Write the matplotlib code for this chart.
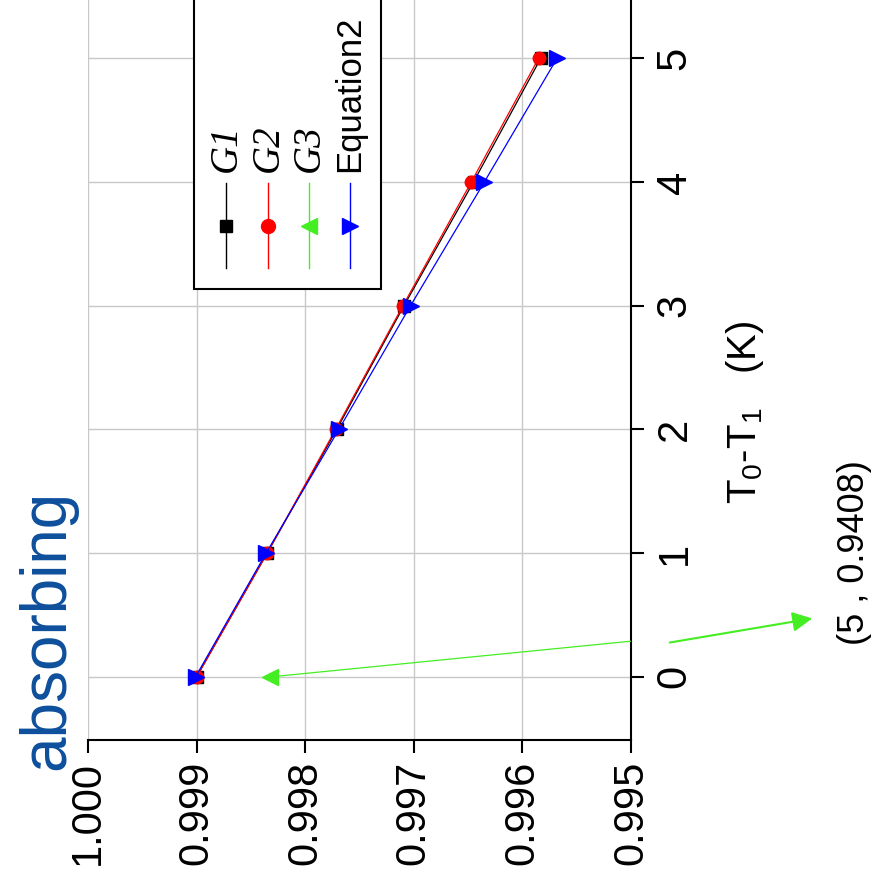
import numpy as np
import matplotlib
matplotlib.use("Agg")
from matplotlib import pyplot as plt
from matplotlib.patches import Rectangle
from matplotlib.lines import Line2D

plt.rcParams['font.family'] = ['Liberation Sans', 'DejaVu Sans']
plt.rcParams['mathtext.fontset'] = 'custom'
plt.rcParams['mathtext.rm'] = 'Liberation Sans'
plt.rcParams['mathtext.it'] = 'Liberation Sans:italic'

dt = [0, 1, 2, 3, 4, 5]
g1 = [0.99900, 0.99835, 0.99771, 0.99709, 0.99645, 0.99583]
g2 = [0.99900, 0.99835, 0.99772, 0.99710, 0.99647, 0.99585]
g3_t = [0, 5]
g3 = [0.99832, 0.9408]
eq2 = [0.99901, 0.99836, 0.99769, 0.99703, 0.99635, 0.99568]

val_ticks = [1.000, 0.999, 0.998, 0.997, 0.996, 0.995]
t_ticks = [0, 1, 2, 3, 4, 5]

W, H = 874, 883
fig = plt.figure(figsize=(W / 100, H / 100), dpi=100)


def fx(px):
    return px / W


def fy(py):
    return 1 - py / H


# chart is drawn turned 90 degrees: value runs left->right (decreasing), T runs up
ax = fig.add_axes([fx(88), fy(740), fx(631) - fx(88), fy(0) - fy(740)])
ax.set_xlim(1.000, 0.995)
ax.set_ylim(-0.51, 5.47)

green = '#44ee22'
ax.plot(g1, dt, color='black', lw=0.9, marker='s', ms=8, zorder=3)
ax.plot(g2, dt, color='red', lw=0.9, marker='o', ms=9, zorder=4)
ax.plot(g3, g3_t, color=green, lw=0.9, marker='<', ms=11, zorder=5)
ax.plot(eq2, dt, color='blue', lw=0.9, marker='>', ms=11, zorder=6)

ax.set_xticks(val_ticks)
ax.set_xticklabels(['%.3f' % v for v in val_ticks], rotation=90)
ax.set_yticks(t_ticks)
ax.yaxis.tick_right()
ax.set_yticklabels([str(t) for t in t_ticks], rotation=90, va='center')
ax.tick_params(axis='both', direction='out', length=9, width=1.5, labelsize=30, pad=6)
ax.tick_params(axis='y', pad=8)
ax.grid(True, color='#c8c8c8', lw=1)
ax.set_axisbelow(True)
for s in ['left', 'top']:
    ax.spines[s].set_visible(False)
for s in ['bottom', 'right']:
    ax.spines[s].set_linewidth(1.5)

fig.text(fx(745), fy(412), 'T$_0$-T$_1$   (K)', rotation=90, ha='center', va='center', fontsize=29)
fig.text(fx(47), fy(630), 'absorbing', rotation=90, ha='center', va='center',
         fontsize=46, color='#0d4f9b')

# off-scale pointer for G3
ax.annotate('', xy=(815, H - 618), xycoords='figure pixels',
            xytext=(667, H - 643), textcoords='figure pixels',
            arrowprops=dict(arrowstyle='-|>', color=green, lw=1.5, mutation_scale=30))
fig.text(fx(855), fy(553), '(5 , 0.9408)', rotation=90, ha='center', va='center', fontsize=26)

# legend (rotated by hand)
fig.patches.append(Rectangle((fx(194), fy(289)), fx(381) - fx(194), fy(-5) - fy(289),
                             transform=fig.transFigure, fill=True, fc='white',
                             ec='black', lw=1.5, zorder=10))
entries = [('G1', 'black', 's', 8, True), ('G2', 'red', 'o', 10, True),
           ('G3', green, '<', 11, True), ('Equation2', 'blue', '>', 11, False)]
xs = [226, 268, 309, 350]
for (lab, c, m, ms, it), x in zip(entries, xs):
    fig.lines.append(Line2D([fx(x), fx(x)], [fy(268), fy(183)], transform=fig.transFigure,
                            color=c, lw=1, zorder=11))
    fig.lines.append(Line2D([fx(x)], [fy(226)], transform=fig.transFigure, color=c,
                            marker=m, ms=ms, zorder=12))
    if it:
        fig.text(fx(x), fy(172), lab, rotation=90, ha='center', va='bottom', fontsize=28,
                 family='Liberation Serif', style='italic', zorder=12)
    else:
        fig.text(fx(x), fy(172), lab, rotation=90, ha='center', va='bottom', fontsize=25,
                 zorder=12)

fig.savefig('out.png', dpi=100)
